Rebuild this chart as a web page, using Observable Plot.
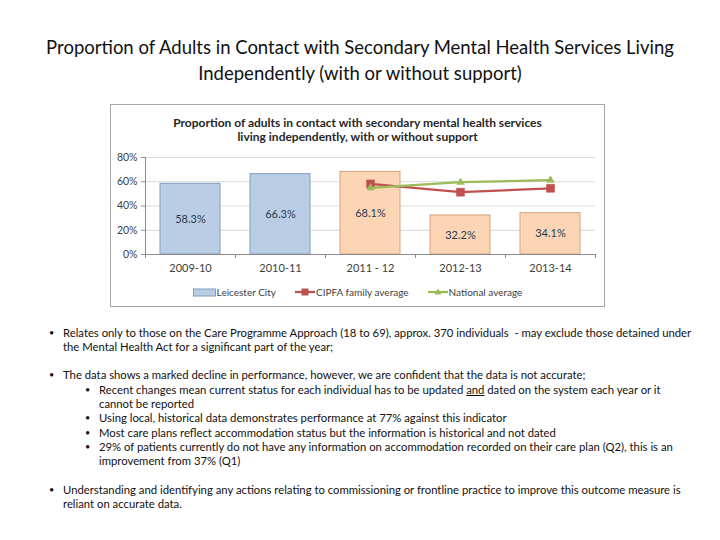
<!DOCTYPE html>
<html><head><meta charset="utf-8">
<script src="https://cdn.jsdelivr.net/npm/d3@7"></script>
<script src="https://cdn.jsdelivr.net/npm/@observablehq/plot@0.6"></script>
<style>
html,body{margin:0;padding:0;background:#fff;}
body{width:720px;height:540px;position:relative;overflow:hidden;font-family:Lato,"Open Sans",sans-serif;color:#000;}
#title{position:absolute;left:0;top:34px;width:720px;text-align:center;font-size:18.5px;line-height:26px;color:#111;}
#box{position:absolute;left:110px;top:104px;width:493px;height:201px;border:1px solid #A6A6A6;background:#fff;}
#ctitle{position:absolute;left:0;top:11px;width:100%;text-align:center;font-weight:bold;font-size:12px;line-height:13.5px;color:#262626;}
#chart{position:absolute;left:0;top:40px;}
#legend{position:absolute;left:0;top:180px;width:100%;height:14px;display:flex;justify-content:center;align-items:center;gap:19px;font-size:10px;color:#404040;}
#legend .it{display:flex;align-items:center;gap:1px;white-space:nowrap;}
#notes{position:absolute;left:0;top:325.5px;width:720px;font-size:11.3px;line-height:14.3px;color:#111;}
.l{position:relative;white-space:nowrap;height:14.3px;}
.b1{padding-left:63px;}
.b2{padding-left:99px;}
.bul::before{content:"•";position:absolute;font-size:9px;}
.b1.bul::before{left:49px;}
.b2.bul::before{left:85px;}
</style></head>
<body>
<div id="title">Proportion of Adults in Contact with Secondary Mental Health Services Living<br>Independently (with or without support)</div>
<div id="box">
  <div id="ctitle">Proportion of adults in contact with secondary mental health services<br>living independently, with or without support</div>
  <div id="chart"></div>
  <div id="legend"></div>
</div>
<div id="notes">
  <div class="l b1 bul">Relates only to those on the Care Programme Approach (18 to 69), approx. 370 individuals&nbsp; - may exclude those detained under</div>
  <div class="l b1">the Mental Health Act for a significant part of the year;</div>
  <div class="l"></div>
  <div class="l b1 bul">The data shows a marked decline in performance, however, we are confident that the data is not accurate;</div>
  <div class="l b2 bul">Recent changes mean current status for each individual has to be updated <u>and</u> dated on the system each year or it</div>
  <div class="l b2">cannot be reported</div>
  <div class="l b2 bul">Using local, historical data demonstrates performance at 77% against this indicator</div>
  <div class="l b2 bul">Most care plans reflect accommodation status but the information is historical and not dated</div>
  <div class="l b2 bul">29% of patients currently do not have any information on accommodation recorded on their care plan (Q2), this is an</div>
  <div class="l b2">improvement from 37% (Q1)</div>
  <div class="l"></div>
  <div class="l b1 bul">Understanding and identifying any actions relating to commissioning or frontline practice to improve this outcome measure is</div>
  <div class="l b1">reliant on accurate data.</div>
</div>
<script>
// ---- data ----
const years = ["2009-10", "2010-11", "2011 - 12", "2012-13", "2013-14"];
const leicester = [58.3, 66.3, 68.1, 32.2, 34.1];
const lineYears = ["2011 - 12", "2012-13", "2013-14"];
const cipfa = [58.2, 51.4, 54.6];
const national = [55.0, 59.6, 61.3];
const yTicks = [0, 20, 40, 60, 80];
const seriesNames = ["Leicester City", "CIPFA family average", "National average"];

// ---- styles ----
const blueFill = "#B9CDE5", blueStroke = "#7F9DC4";
const peachFill = "#FCD5B5", peachStroke = "#D9A27E";
const red = "#C0504D", green = "#9BBB59";
const axisColor = "#8C8C8C";

const W = 493, H = 135, ML = 34, MR = 9, MT = 12, MB = 26;
const halfStep = (W - ML - MR) / years.length / 2;

const bars = years.map((year, i) => ({year, value: leicester[i], i}));
const cip = lineYears.map((year, i) => ({year, value: cipfa[i]}));
const nat = lineYears.map((year, i) => ({year, value: national[i]}));

const plot = Plot.plot({
  width: W, height: H, marginTop: MT, marginBottom: MB, marginLeft: ML, marginRight: MR,
  style: {fontFamily: "Lato, sans-serif", fontSize: "10.5px", color: "#404040", background: "transparent", overflow: "visible"},
  x: {domain: years, paddingInner: 1/3, paddingOuter: 1/6, label: null},
  y: {domain: [0, 80], label: null},
  color: {type: "identity"},
  marks: [
    Plot.gridY(yTicks.filter(d => d > 0), {stroke: "#D9D9D9", strokeOpacity: 1}),
    Plot.barY(bars, {x: "year", y: "value", fill: d => d.i < 2 ? blueFill : peachFill, stroke: d => d.i < 2 ? blueStroke : peachStroke, strokeWidth: 1}),
    Plot.text(bars, {x: "year", y: d => d.value / 2, text: d => d.value.toFixed(1) + "%", fill: "#2B3A4F", fontSize: 11}),
    Plot.ruleY([0], {stroke: axisColor}),
    Plot.ruleX(years.slice(0, 1), {x: d => d, y1: 0, y2: 80, dx: -halfStep, stroke: axisColor}),
    Plot.ruleX(years, {x: d => d, y1: 0, y2: 0, insetBottom: -4, dx: -halfStep, stroke: axisColor}),
    Plot.ruleX(years.slice(-1), {x: d => d, y1: 0, y2: 0, insetBottom: -4, dx: halfStep, stroke: axisColor}),
    Plot.axisY(yTicks, {tickFormat: d => d + "%", tickSize: 4, tickPadding: 4, stroke: axisColor, fill: "#404040", fontSize: 10.5}),
    Plot.axisX({tickSize: 0, tickPadding: 10, fill: "#404040", fontSize: 11}),
    Plot.line(cip, {x: "year", y: "value", stroke: red, strokeWidth: 2.25}),
    Plot.dot(cip, {x: "year", y: "value", symbol: "square", r: 4.5, fill: red, stroke: red, strokeWidth: 0.5}),
    Plot.line(nat, {x: "year", y: "value", stroke: green, strokeWidth: 2.25}),
    Plot.dot(nat, {x: "year", y: "value", symbol: "triangle", r: 2.8, fill: green, stroke: green, strokeWidth: 0.5})
  ]
});
document.getElementById("chart").appendChild(plot);

// ---- legend ----
const leg = document.getElementById("legend");
const swatches = [
  `<svg width="23" height="9"><rect x="0.5" y="1" width="22" height="7" fill="${blueFill}" stroke="${blueStroke}"/></svg>`,
  `<svg width="20" height="10"><line x1="0" y1="5" x2="20" y2="5" stroke="${red}" stroke-width="2.25"/><rect x="6.5" y="1.5" width="7" height="7" fill="${red}"/></svg>`,
  `<svg width="20" height="10"><line x1="0" y1="5" x2="20" y2="5" stroke="${green}" stroke-width="2.25"/><path d="M10,1.5L13.5,7.5L6.5,7.5Z" fill="${green}"/></svg>`
];
seriesNames.forEach((name, i) => {
  const it = document.createElement("div");
  it.className = "it";
  it.innerHTML = swatches[i] + `<span>${name}</span>`;
  leg.appendChild(it);
});
</script>
</body></html>
